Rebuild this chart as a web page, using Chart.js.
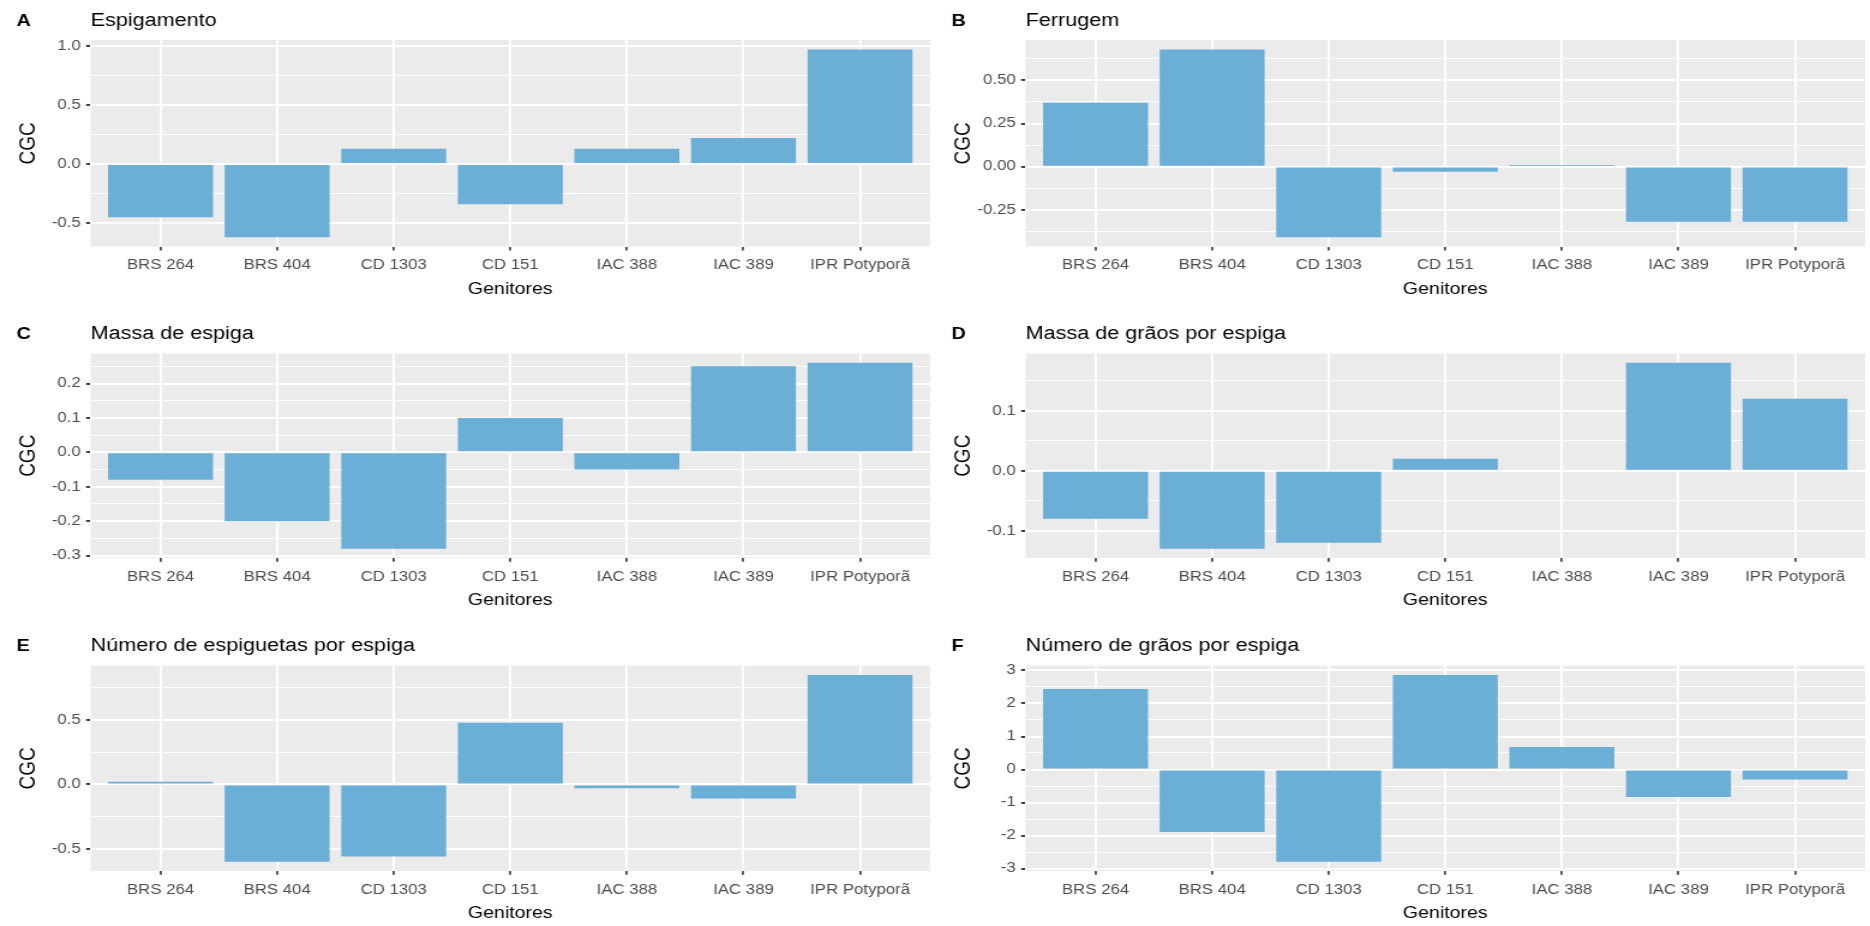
<!DOCTYPE html>
<html>
<head>
<meta charset="utf-8">
<script src="https://cdn.jsdelivr.net/npm/chart.js@4.4.1/dist/chart.umd.min.js"></script>
<style>
  html, body { margin: 0; padding: 0; background: #ffffff; width: 1870px; height: 926px; overflow: hidden; }
  body { position: relative; }
  canvas { position: absolute; transform-origin: 0 0; }
</style>
</head>
<body>
<script>
// Genitores (parents) on the x axis
const genitores = ['BRS 264', 'BRS 404', 'CD 1303', 'CD 151', 'IAC 388', 'IAC 389', 'IPR Potyporã'];

// CGC (general combining ability) per trait
const espigamento   = [-0.45, -0.62,  0.13, -0.34,  0.13,  0.22,  0.97];
const ferrugem      = [ 0.37,  0.68, -0.41, -0.03,  0.01, -0.32, -0.32];
const massaEspiga   = [-0.08, -0.20, -0.28,  0.10, -0.05,  0.25,  0.26];
const massaGraos    = [-0.08, -0.13, -0.12,  0.02,  0.00,  0.18,  0.12];
const numEspiguetas = [ 0.02, -0.60, -0.56,  0.48, -0.03, -0.11,  0.85];
const numGraos      = [ 2.44, -1.89, -2.79,  2.86,  0.68, -0.83, -0.30];

// Major y ticks and their labels for each trait
const ticksEspigamento   = [-0.5, 0, 0.5, 1.0];
const labelsEspigamento  = ['-0.5', '0.0', '0.5', '1.0'];
const ticksFerrugem      = [-0.25, 0, 0.25, 0.5];
const labelsFerrugem     = ['-0.25', '0.00', '0.25', '0.50'];
const ticksMassaEspiga   = [-0.3, -0.2, -0.1, 0, 0.1, 0.2];
const labelsMassaEspiga  = ['-0.3', '-0.2', '-0.1', '0.0', '0.1', '0.2'];
const ticksMassaGraos    = [-0.1, 0, 0.1];
const labelsMassaGraos   = ['-0.1', '0.0', '0.1'];
const ticksEspiguetas    = [-0.5, 0, 0.5];
const labelsEspiguetas   = ['-0.5', '0.0', '0.5'];
const ticksNumGraos      = [-3, -2, -1, 0, 1, 2, 3];
const labelsNumGraos     = ['-3', '-2', '-1', '0', '1', '2', '3'];

const FONT = '"Liberation Sans", Arial, Helvetica, sans-serif';
const BAR_COLOR = '#6BAED6';

// Each panel is drawn on a narrower canvas and widened horizontally on the page
const COL_WIDTH = 935;                 // page px per column
const CANVAS_W = 779;                  // drawing width of each panel canvas
const STRETCH = COL_WIDTH / CANVAS_W;  // horizontal widening factor
const PANEL_LEFT = 90.6 / STRETCH;     // panel left edge inside the canvas
const PANEL_RIGHT = 930 / STRETCH;     // panel right edge inside the canvas

// Vertical placement of each row of panels (panel top / bottom, page px)
const rows = [
  { top: 40.0,  bottom: 246.7 },
  { top: 353.5, bottom: 558.0 },
  { top: 665.7, bottom: 871.0 }
];

const panels = [
  { tag: 'A', title: 'Espigamento',                     values: espigamento,   ticks: ticksEspigamento,  labels: labelsEspigamento,  row: 0, col: 0 },
  { tag: 'B', title: 'Ferrugem',                        values: ferrugem,      ticks: ticksFerrugem,     labels: labelsFerrugem,     row: 0, col: 1 },
  { tag: 'C', title: 'Massa de espiga',                 values: massaEspiga,   ticks: ticksMassaEspiga,  labels: labelsMassaEspiga,  row: 1, col: 0 },
  { tag: 'D', title: 'Massa de grãos por espiga',       values: massaGraos,    ticks: ticksMassaGraos,   labels: labelsMassaGraos,   row: 1, col: 1 },
  { tag: 'E', title: 'Número de espiguetas por espiga', values: numEspiguetas, ticks: ticksEspiguetas,   labels: labelsEspiguetas,   row: 2, col: 0 },
  { tag: 'F', title: 'Número de grãos por espiga',      values: numGraos,      ticks: ticksNumGraos,     labels: labelsNumGraos,     row: 2, col: 1 }
];

// ggplot-style range: data (with zero baseline) expanded by 5% on each side
function expandRange(vals) {
  const lo = Math.min(0, ...vals);
  const hi = Math.max(0, ...vals);
  const pad = (hi - lo) * 0.05;
  return [lo - pad, hi + pad];
}

// Minor grid positions halfway between major ticks
function minorTicks(major, lo, hi) {
  const step = major[1] - major[0];
  const out = [];
  for (let v = major[0] - step / 2; v <= hi + 1e-9; v += step) {
    const r = +v.toFixed(6);
    if (r >= lo && r <= hi) out.push(r);
  }
  return out;
}

// Grey panel background behind the grid
const panelBg = {
  id: 'panelBg',
  beforeDraw(chart) {
    const { ctx, chartArea: a } = chart;
    ctx.save();
    ctx.fillStyle = '#EBEBEB';
    ctx.fillRect(a.left, a.top, a.right - a.left, a.bottom - a.top);
    ctx.restore();
  }
};

// Panel tag letter and left-aligned title above the panel
function panelTitle(tag, title) {
  return {
    id: 'panelTitle',
    afterDraw(chart) {
      const { ctx, chartArea: a } = chart;
      const y = a.top - 14.5;
      ctx.save();
      ctx.fillStyle = '#000000';
      ctx.textAlign = 'left';
      ctx.textBaseline = 'alphabetic';
      ctx.font = 'bold 16.5px ' + FONT;
      ctx.fillText(tag, 16.5 / STRETCH, y);
      ctx.font = '18px ' + FONT;
      ctx.fillText(title, a.left, y);
      ctx.restore();
    }
  };
}

function makePanel(p) {
  const g = rows[p.row];
  const cTop = Math.floor(g.top - 40);
  const cBottom = Math.min(926, Math.ceil(g.bottom + 55));
  const h = cBottom - cTop;
  const padTop = g.top - cTop;
  const xAxisH = cBottom - g.bottom;

  const canvas = document.createElement('canvas');
  canvas.width = CANVAS_W;
  canvas.height = h;
  canvas.style.left = (p.col * COL_WIDTH) + 'px';
  canvas.style.top = cTop + 'px';
  canvas.style.transform = 'scaleX(' + STRETCH + ')';
  document.body.appendChild(canvas);

  const [lo, hi] = expandRange(p.values);
  const minors = minorTicks(p.ticks, lo, hi);
  const isMinor = v => minors.some(m => Math.abs(m - v) < 1e-9);
  const yTicks = [...p.ticks.filter(v => v >= lo && v <= hi), ...minors].sort((a, b) => a - b);

  const xTitleSize = 16.3;
  const yTitleSize = 19;

  new Chart(canvas, {
    type: 'bar',
    data: {
      datasets: [{
        data: genitores.map((name, i) => ({ x: i, y: p.values[i] })),
        backgroundColor: BAR_COLOR,
        borderWidth: 0,
        categoryPercentage: 1,
        barPercentage: 0.9
      }]
    },
    options: {
      responsive: false,
      animation: false,
      devicePixelRatio: 1,
      layout: { padding: { top: padTop, left: 0, right: CANVAS_W - PANEL_RIGHT, bottom: 0 } },
      plugins: {
        legend: { display: false },
        tooltip: { enabled: false },
        title: { display: false }
      },
      scales: {
        x: {
          type: 'linear',
          bounds: 'data',
          min: -0.6,
          max: genitores.length - 0.4,
          offset: false,
          afterFit: s => { s.height = xAxisH; },
          afterBuildTicks: s => { s.ticks = genitores.map((name, i) => ({ value: i })); },
          grid: { offset: false, color: '#FFFFFF', lineWidth: 1.9, drawTicks: true, tickLength: 3.7, tickColor: '#333333', tickWidth: 1.6 },
          border: { display: false },
          ticks: {
            autoSkip: false, maxRotation: 0, minRotation: 0, padding: 6.8,
            color: '#4D4D4D', font: { family: FONT, size: 14 },
            callback: v => genitores[v]
          },
          title: {
            display: true, text: 'Genitores', color: '#000000',
            font: { family: FONT, size: xTitleSize },
            padding: { top: 0, bottom: xAxisH - xTitleSize * 0.6 - 42.5 }
          }
        },
        y: {
          bounds: 'data',
          min: lo,
          max: hi,
          afterFit: s => { s.width = PANEL_LEFT; },
          afterBuildTicks: s => { s.ticks = yTicks.map(v => ({ value: v })); },
          grid: {
            color: '#FFFFFF',
            lineWidth: c => (c.tick && isMinor(c.tick.value)) ? 0.95 : 1.9,
            drawTicks: true,
            tickLength: 3.7,
            tickColor: c => (c.tick && isMinor(c.tick.value)) ? 'rgba(0,0,0,0)' : '#333333',
            tickWidth: 1.9
          },
          border: { display: false },
          ticks: {
            autoSkip: false, padding: 4.5,
            color: '#4D4D4D', font: { family: FONT, size: 14 },
            callback: v => {
              const i = p.ticks.findIndex(m => Math.abs(m - v) < 1e-9);
              return i < 0 ? '' : p.labels[i];
            }
          },
          title: {
            display: true, text: 'CGC', color: '#000000',
            font: { family: FONT, size: yTitleSize },
            padding: { top: 29 / STRETCH - yTitleSize * 0.6, bottom: 0 }
          }
        }
      }
    },
    plugins: [panelBg, panelTitle(p.tag, p.title)]
  });
}

panels.forEach(makePanel);
</script>
</body>
</html>
